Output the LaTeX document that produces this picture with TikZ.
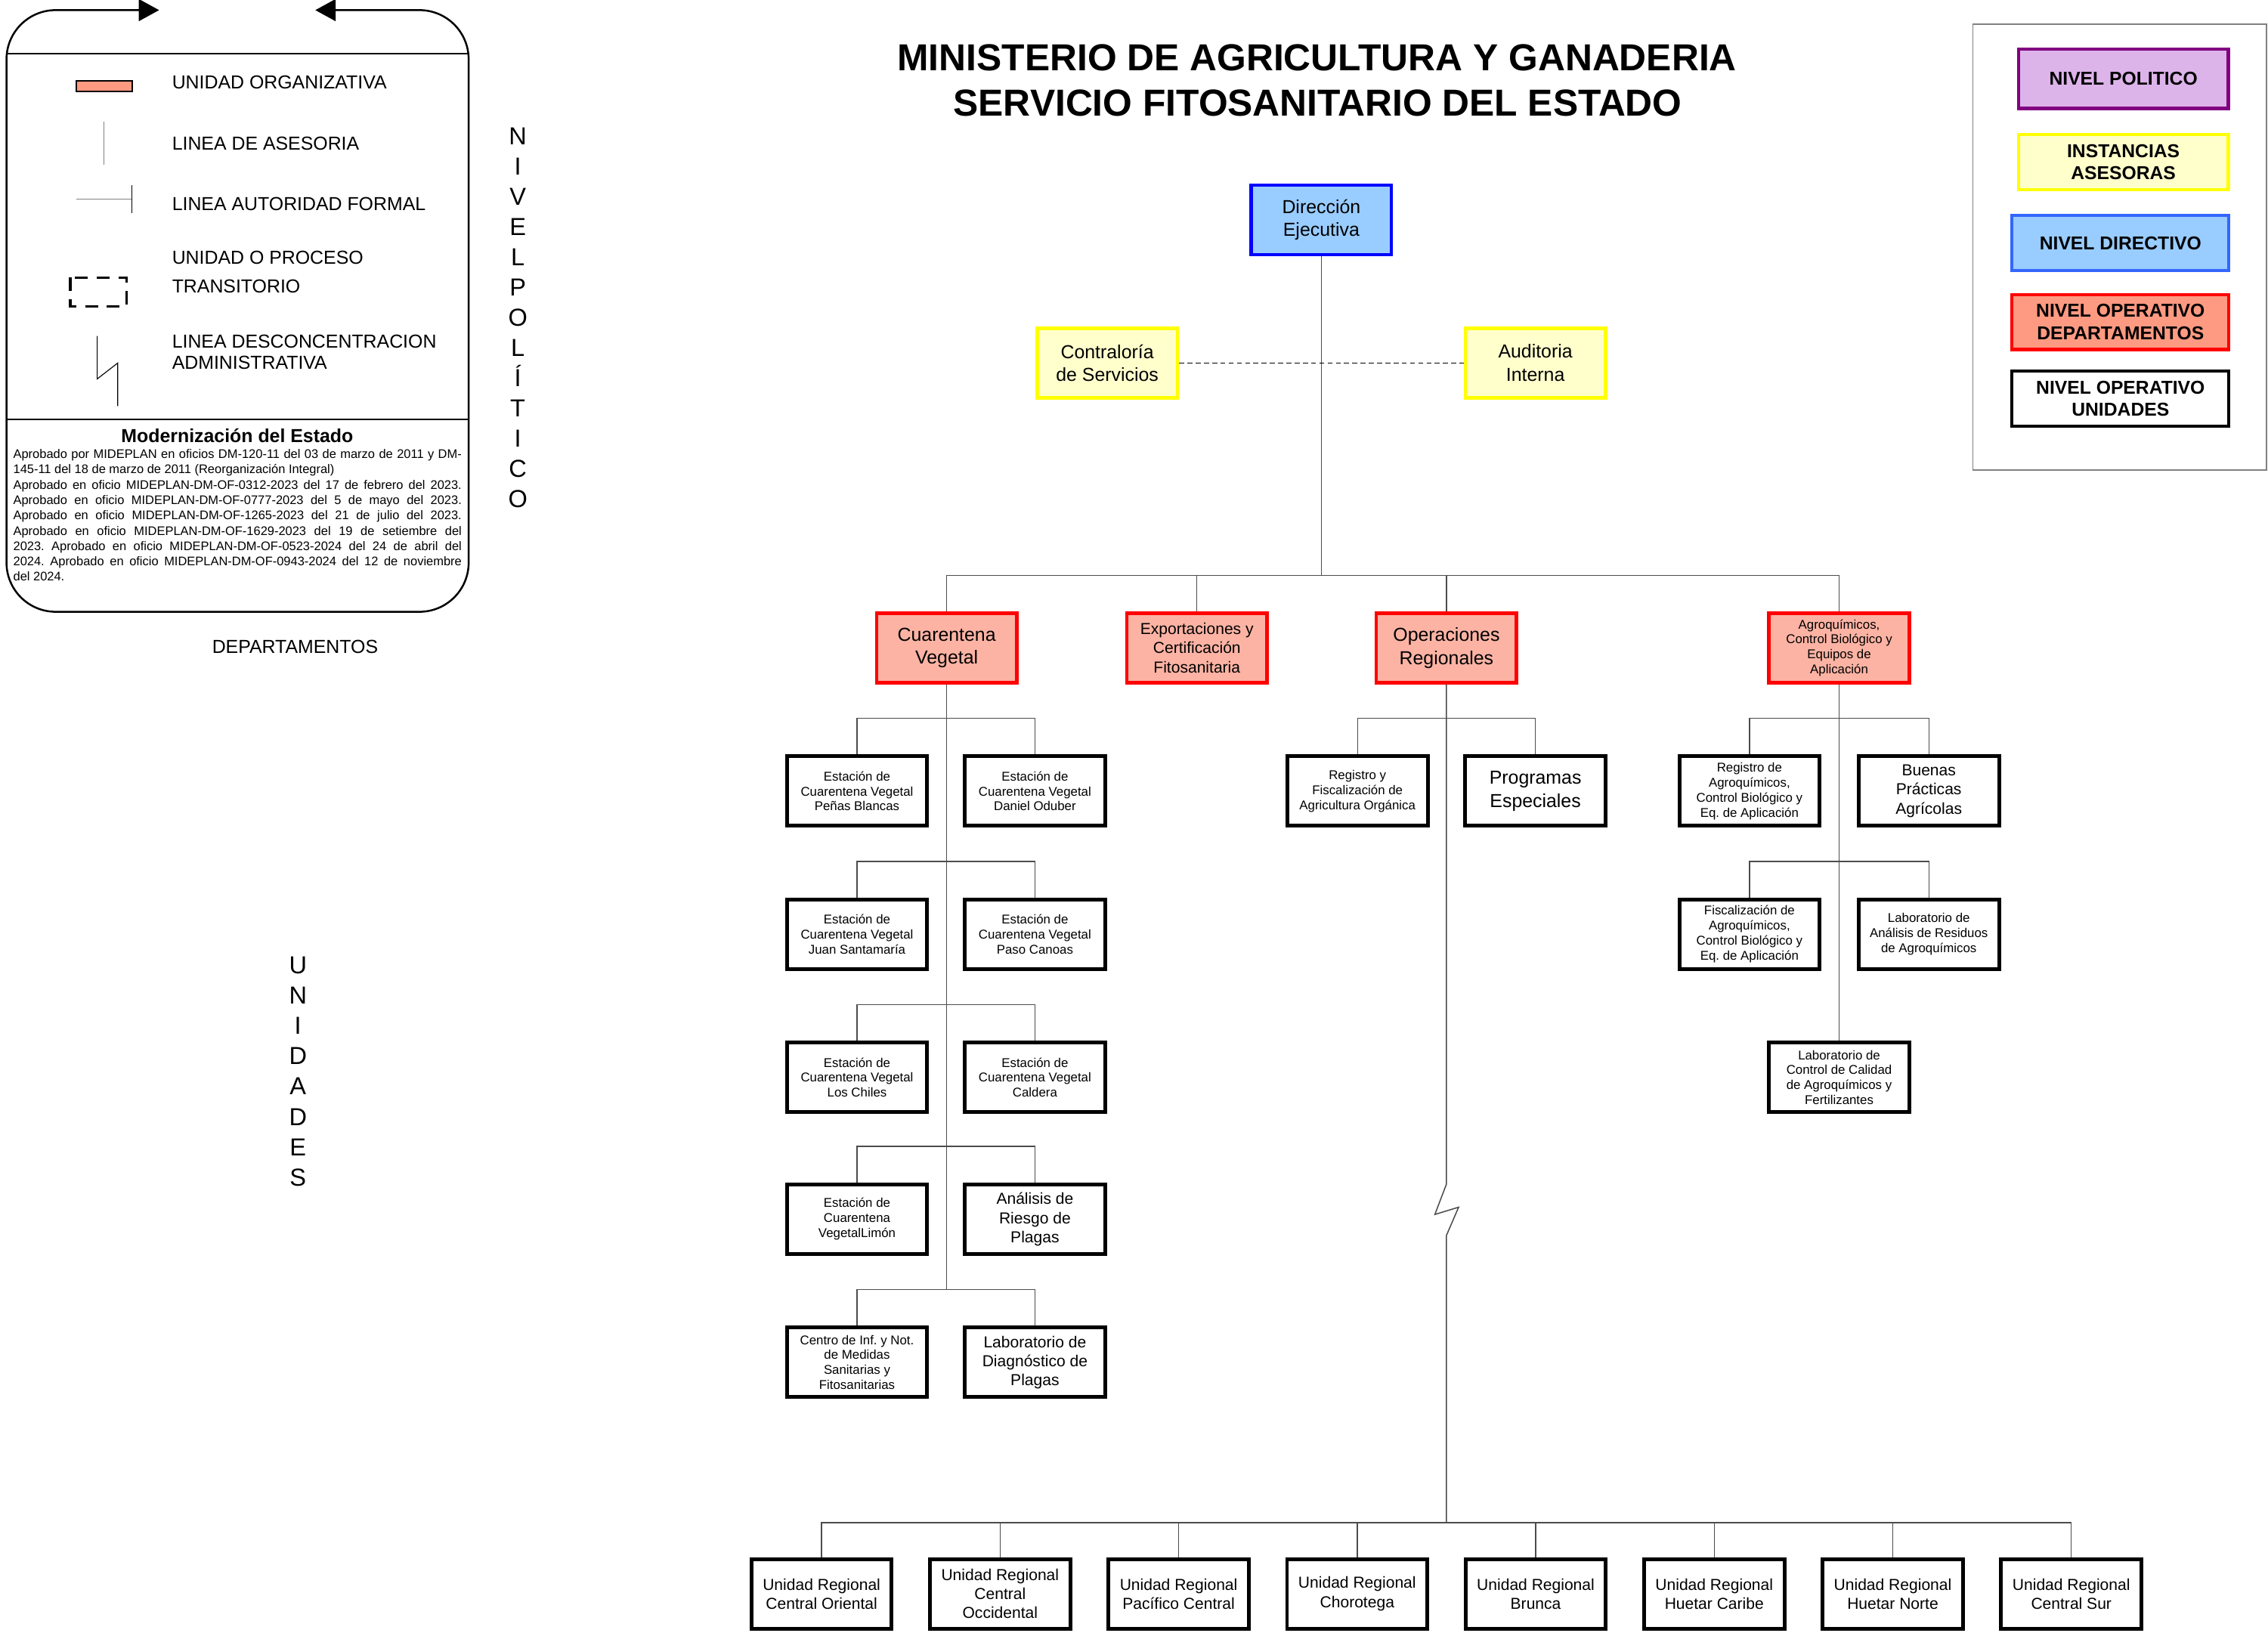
\documentclass[tikz,border=0pt]{standalone}
\usepackage{fontspec}
\setmainfont{Liberation Sans}
\usetikzlibrary{arrows.meta,positioning,calc}
\frenchspacing
\definecolor{vsky}{HTML}{99CCFF}
\definecolor{vblue}{HTML}{0000FF}
\definecolor{vblueb}{HTML}{3366FF}
\definecolor{vcream}{HTML}{FFFFCC}
\definecolor{vyellow}{HTML}{FFFF00}
\definecolor{vsalmon}{HTML}{FCB3A4}
\definecolor{vsalmonb}{HTML}{FF9A82}
\definecolor{vred}{HTML}{FF0000}
\definecolor{vlila}{HTML}{DDB4EA}
\definecolor{vpurple}{HTML}{800080}
\definecolor{vgray}{HTML}{808080}
\tikzset{
  boxbase/.style={minimum width=97,minimum height=48,align=center,inner sep=1pt},
  direc/.style={boxbase,draw=vblue,fill=vsky,line width=2.4},
  asesor/.style={boxbase,draw=vyellow,fill=vcream,line width=2.4},
  dept/.style={boxbase,draw=vred,fill=vsalmon,line width=2.4},
  unit/.style={boxbase,draw=black,fill=white,line width=2.6},
  txtL/.style={font=\fontsize{13}{16}\selectfont},
  txtM/.style={font=\fontsize{11}{13.2}\selectfont},
  txtS/.style={font=\fontsize{8.8}{10.4}\selectfont},
  con/.style={draw=black!70,line width=0.75},
  lvl/.style={line width=2.2,align=center,inner sep=1pt,font=\fontsize{12.9}{15.5}\selectfont\bfseries},
  leg/.style={font=\fontsize{13}{15}\selectfont,inner sep=0pt},
  vlet/.style={font=\fontsize{17}{20}\selectfont,inner sep=0pt},
  titulo/.style={font=\fontsize{26}{31}\selectfont\bfseries},
}
\begin{document}
\begin{tikzpicture}[x=1pt,y=-1pt]
  \useasboundingbox (0,0) rectangle (1568,1129);
  % cuadro de simbologia
  \draw[line width=1.3,rounded corners=34,{Triangle[length=14,width=15]}-{Triangle[length=14,width=15]}]
    (110,7) -- (4.5,7) -- (4.5,423) -- (324,423) -- (324,7) -- (218,7);
  \draw[line width=1.3] (4.5,37) -- (324,37);
  \draw[line width=1.3] (4.5,290) -- (324,290);
  \draw[fill=vsalmonb,line width=1.2] (52.7,56) rectangle (91.3,63.4);
  \draw[vgray,line width=0.7] (72,84.3) -- (72,113.8);
  \draw[vgray,line width=0.7] (52.7,137.7) -- (91.3,137.7);
  \draw[line width=0.7] (91.3,127.8) -- (91.3,147.4);
  \draw[line width=1.6,dash pattern=on 9 off 6] (48.6,192) rectangle (87.4,211.8);
  \draw[line width=0.6] (67.2,232.3) -- (67.2,262) -- (81.4,251) -- (81.4,280.8);
  \node[leg,anchor=west] (tuo) at (118.8,57) {UNIDAD ORGANIZATIVA};
  \node[leg,anchor=west] (tla) at (118.8,99) {LINEA DE ASESORIA};
  \node[leg,anchor=west] (taf) at (118.8,141) {LINEA AUTORIDAD FORMAL};
  \node[leg,anchor=west] (tup) at (118.8,178) {UNIDAD O PROCESO};
  \node[leg,anchor=west] (ttr) at (118.8,198) {TRANSITORIO};
  \node[leg,anchor=west] (tld) at (118.8,236) {LINEA DESCONCENTRACION};
  \node[leg,anchor=west] (tad) at (118.8,251) {ADMINISTRATIVA};
  \node[font=\fontsize{13}{15}\selectfont\bfseries] (mod) at (164,301) {Modernización del Estado};
  \node[anchor=north west,text width=310,align=justify,inner sep=0pt,font=\fontsize{8.6}{10.6}\selectfont] (apr) at (9,310.5)
    {Aprobado por MIDEPLAN en oficios DM-120-11 del 03 de marzo de 2011 y DM-\linebreak
     145-11 del 18 de marzo de 2011 (Reorganización Integral)\newline
     Aprobado en oficio MIDEPLAN-DM-OF-0312-2023 del 17 de febrero del 2023.\linebreak
     Aprobado en oficio MIDEPLAN-DM-OF-0777-2023 del 5 de mayo del 2023.\linebreak
     Aprobado en oficio MIDEPLAN-DM-OF-1265-2023 del 21 de julio del 2023.\linebreak
     Aprobado en oficio MIDEPLAN-DM-OF-1629-2023 del 19 de setiembre del\linebreak
     2023. Aprobado en oficio MIDEPLAN-DM-OF-0523-2024 del 24 de abril del\linebreak
     2024. Aprobado en oficio MIDEPLAN-DM-OF-0943-2024 del 12 de noviembre\linebreak
     del 2024.};
  \node[leg] (tdep) at (204,447) {DEPARTAMENTOS};
  % niveles verticales
  \foreach \c [count=\i from 0] in {N,I,V,E,L,P,O,L,Í,T,I,C,O}
    \node[vlet,anchor=base] (np\i) at (358,{100.3+20.9*\i}) {\c};
  \foreach \c [count=\i from 0] in {U,N,I,D,A,D,E,S}
    \node[vlet,anchor=base] (nu\i) at (206,{673+21*\i}) {\c};
  % titulo
  \node[titulo] (tit1) at (910.5,40) {MINISTERIO DE AGRICULTURA Y GANADERIA};
  \node[titulo] (tit2) at (911,71) {SERVICIO FITOSANITARIO DEL ESTADO};
  % leyenda de niveles
  \draw[vgray,line width=0.9] (1364,16.7) rectangle (1567,324.8);
  \node[lvl,draw=vpurple,fill=vlila,minimum width=145,minimum height=41] (lpol) at (1468,54.5) {NIVEL POLITICO};
  \node[lvl,draw=vyellow,fill=vcream,minimum width=145,minimum height=38] (lins) at (1468,112) {INSTANCIAS\\ASESORAS};
  \node[lvl,draw=vblueb,fill=vsky,minimum width=150,minimum height=38] (ldir) at (1466,168) {NIVEL DIRECTIVO};
  \node[lvl,draw=vred,fill=vsalmonb,minimum width=150,minimum height=38] (ldep) at (1466,222.6) {NIVEL OPERATIVO\\DEPARTAMENTOS};
  \node[lvl,draw=black,fill=white,minimum width=150,minimum height=38] (luni) at (1466,275.6) {NIVEL OPERATIVO\\UNIDADES};
  % direccion e instancias asesoras
  \node[direc,txtL] (de) at (913.5,152) {Dirección\\Ejecutiva};
  \node[asesor,txtL] (cs) at (765.5,251) {Contraloría\\de Servicios};
  \node[asesor,txtL] (ai) at (1061.5,251) {Auditoria\\Interna};
  % departamentos
  \node[dept,txtL] (cv) at (654.5,448) {Cuarentena\\Vegetal};
  \node[dept,txtM] (ecf) at (827.5,448) {Exportaciones y\\Certificación\\Fitosanitaria};
  \node[dept,txtL] (opr) at (1000,448) {Operaciones\\Regionales};
  \node[dept,txtS] (agq) at (1271.5,448) {Agroquímicos,\\Control Biológico y\\Equipos de\\Aplicación};
  % unidades de Cuarentena Vegetal
  \node[unit,txtS] (pb) at (592.5,547) {Estación de\\Cuarentena Vegetal\\Peñas Blancas};
  \node[unit,txtS] (dob) at (715.5,547) {Estación de\\Cuarentena Vegetal\\Daniel Oduber};
  \node[unit,txtS] (js) at (592.5,646) {Estación de\\Cuarentena Vegetal\\Juan Santamaría};
  \node[unit,txtS] (pc) at (715.5,646) {Estación de\\Cuarentena Vegetal\\Paso Canoas};
  \node[unit,txtS] (lch) at (592.5,745) {Estación de\\Cuarentena Vegetal\\Los Chiles};
  \node[unit,txtS] (cal) at (715.5,745) {Estación de\\Cuarentena Vegetal\\Caldera};
  \node[unit,txtS] (lim) at (592.5,843) {Estación de\\Cuarentena\\VegetalLimón};
  \node[unit,txtM] (arp) at (715.5,843) {Análisis de\\Riesgo de\\Plagas};
  \node[unit,txtS] (cin) at (592.5,942) {Centro de Inf. y Not.\\de Medidas\\Sanitarias y\\Fitosanitarias};
  \node[unit,txtM] (ldp) at (715.5,942) {Laboratorio de\\Diagnóstico de\\Plagas};
  % unidades de Operaciones Regionales
  \node[unit,txtS] (rfa) at (938.5,547) {Registro y\\Fiscalización de\\Agricultura Orgánica};
  \node[unit,txtL] (pes) at (1061.5,547) {Programas\\Especiales};
  % unidades de Agroquimicos
  \node[unit,txtS] (rag) at (1209.5,547) {Registro de\\Agroquímicos,\\Control Biológico y\\Eq. de Aplicación};
  \node[unit,txtM] (bpa) at (1333.5,547) {Buenas\\Prácticas\\Agrícolas};
  \node[unit,txtS] (fag) at (1209.5,646) {Fiscalización de\\Agroquímicos,\\Control Biológico y\\Eq. de Aplicación};
  \node[unit,txtS] (lar) at (1333.5,646) {Laboratorio de\\Análisis de Residuos\\de Agroquímicos};
  \node[unit,txtS] (lcc) at (1271.5,745) {Laboratorio de\\Control de Calidad\\de Agroquímicos y\\Fertilizantes};
  % unidades regionales
  \foreach \t [count=\i] in {{Unidad Regional\\Central Oriental},{Unidad Regional\\Central\\Occidental},
      {Unidad Regional\\Pacífico Central},{Unidad Regional\\Chorotega},{Unidad Regional\\Brunca},
      {Unidad Regional\\Huetar Caribe},{Unidad Regional\\Huetar Norte},{Unidad Regional\\Central Sur}}
    \node[unit,txtM] (ur\i) at ({568+123.43*(\i-1)},1102) {\t};
  % lineas de autoridad
  \coordinate (bd) at ($(cv.north)+(0,-25)$);
  \draw[con] (de.south) -- (de.south |- bd);
  \draw[con] (cv.north) -- (bd) -| (agq.north);
  \draw[con] (ecf.north) -- (ecf.north |- bd);
  \draw[con] (opr.north) -- (opr.north |- bd);
  \draw[line width=0.8,dash pattern=on 3.5 off 2.2] (cs.east) -- (ai.west);
  \draw[con] (cv.south) -- ($(cv.south |- cin.north)+(0,-25)$);
  \foreach \a/\b in {pb/dob,js/pc,lch/cal,lim/arp,cin/ldp,rfa/pes,rag/bpa,fag/lar}
    \draw[con] (\a.north) -- ++(0,-25) -| (\b.north);
  \draw[con] (agq.south) -- (lcc.north);
  % desconcentracion regional
  \coordinate (rb) at ($(ur1.north)+(0,-24)$);
  \coordinate (zz) at ($(opr.south)+(0,363)$);
  \draw[con,line width=0.8] (opr.south) -- ($(zz)+(0,-17.5)$) -- ($(zz)+(-8,3.5)$) -- ($(zz)+(8.4,-1.5)$)
    -- ($(zz)+(0,18)$) -- (opr.south |- rb);
  \draw[con] (ur1.north) -- (rb) -| (ur8.north);
  \foreach \i in {2,...,7}
    \draw[con] (ur\i.north) -- ++(0,-24);
\end{tikzpicture}
\end{document}
